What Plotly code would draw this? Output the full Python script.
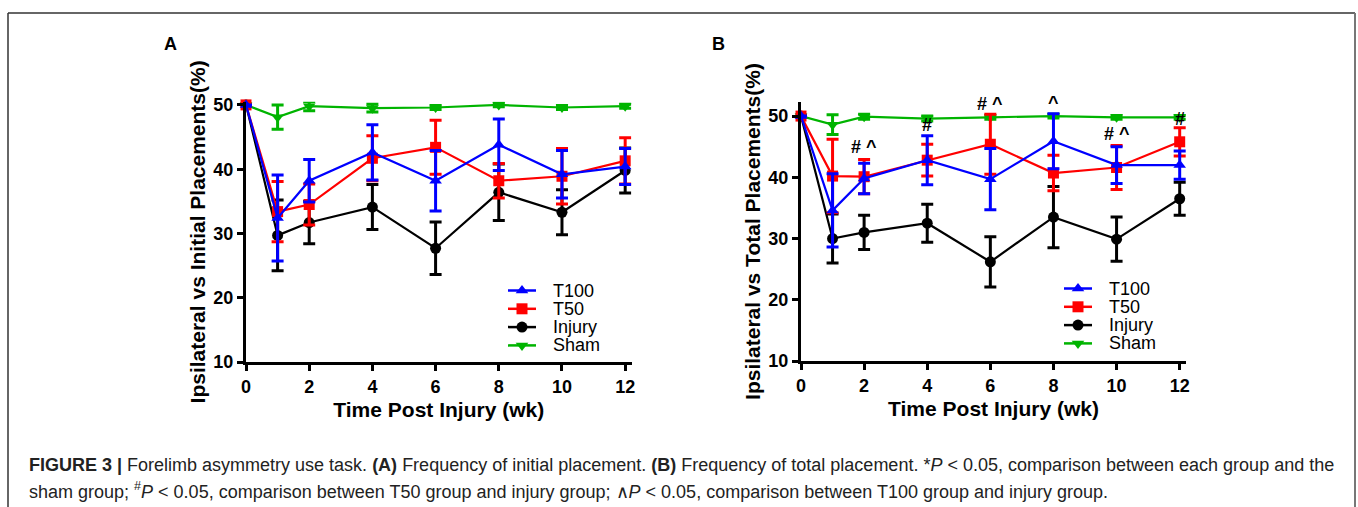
import plotly.graph_objects as go

W, H = 1358, 507

weeks = [0, 1, 2, 4, 6, 8, 10, 12]
series_names = ["T100", "T50", "Injury", "Sham"]

# Panel A: initial placements
a_t100 = [50, 32.4, 38.2, 42.6, 38.2, 43.8, 39.2, 40.4]
a_t100_err = [0, 6.7, 3.3, 4.3, 4.7, 4.0, 3.7, 2.8]
a_t50 = [50, 33.4, 34.5, 41.7, 43.4, 38.2, 38.9, 41.3]
a_t50_err = [0, 4.7, 3.2, 3.5, 4.2, 2.7, 4.3, 3.6]
a_inj = [50, 29.7, 31.7, 34.1, 27.7, 36.4, 33.3, 39.8]
a_inj_err = [0, 5.5, 3.3, 3.5, 4.1, 4.4, 3.5, 3.5]
a_sham = [50, 48.1, 49.8, 49.5, 49.6, 50.0, 49.6, 49.8]
a_sham_err = [0, 1.9, 0.7, 0.6, 0.3, 0.3, 0.3, 0.3]

# Panel B: total placements
b_t100 = [50, 34.6, 39.8, 42.8, 39.7, 45.9, 42.0, 42.0]
b_t100_err = [0, 6.0, 2.5, 4.0, 5.0, 4.5, 3.0, 2.3]
b_t50 = [50, 40.2, 40.1, 42.8, 45.4, 40.7, 41.6, 45.8]
b_t50_err = [0, 6.0, 2.8, 2.6, 4.9, 2.9, 3.6, 2.3]
b_inj = [50, 30.0, 31.0, 32.5, 26.2, 33.5, 29.9, 36.5]
b_inj_err = [0, 4.0, 2.8, 3.1, 4.1, 5.0, 3.6, 2.7]
b_sham = [50, 48.6, 49.9, 49.6, 49.8, 50.0, 49.8, 49.8]
b_sham_err = [0, 1.6, 0.4, 0.4, 0.3, 0.3, 0.3, 0.3]

# significance marks (panel B)
b_sig_x = [2, 4, 6, 8, 10, 12]
b_sig_text = ["# ^", "#", "# ^", "^", "# ^", "#"]
b_sig_y = [45.0, 48.6, 52.0, 52.2, 47.1, 49.5]

colors = {"T100": "#0000FF", "T50": "#FF0000", "Injury": "#000000", "Sham": "#00B400"}
symbols = {"T100": "triangle-up", "T50": "square", "Injury": "circle", "Sham": "triangle-down"}

FONT = "Liberation Sans, Arial, sans-serif"

fig = go.Figure()

def px_x(p):
    return p / W

def px_y(p):
    return (H - p) / H

panelA = {"T100": (a_t100, a_t100_err), "T50": (a_t50, a_t50_err),
          "Injury": (a_inj, a_inj_err), "Sham": (a_sham, a_sham_err)}
panelB = {"T100": (b_t100, b_t100_err), "T50": (b_t50, b_t50_err),
          "Injury": (b_inj, b_inj_err), "Sham": (b_sham, b_sham_err)}

draw_order = ["Sham", "Injury", "T50", "T100"]
for panel, xa, ya in [(panelA, "x", "y"), (panelB, "x2", "y2")]:
    for name in draw_order:
        vals, errs = panel[name]
        fig.add_trace(go.Scatter(
            x=weeks, y=vals, name=name, mode="lines+markers",
            xaxis=xa, yaxis=ya, showlegend=False,
            line=dict(color=colors[name], width=2.2),
            marker=dict(symbol=symbols[name], size=11, color=colors[name]),
            error_y=dict(type="data", array=errs, visible=True, color=colors[name],
                         thickness=3, width=6),
            cliponaxis=False,
        ))

# Legend glyphs drawn on a pixel-space overlay axis (x3/y3), text as annotations
legend_boxes = [(508, 290.5, 18.3), (1064, 288.5, 18.3)]  # left x, first row y, row step
for lx, ly, step in legend_boxes:
    for i, name in enumerate(series_names):
        yy = ly + i * step
        fig.add_trace(go.Scatter(
            x=[lx, lx + 28], y=[yy, yy], mode="lines", xaxis="x3", yaxis="y3",
            showlegend=False, hoverinfo="skip", line=dict(color=colors[name], width=2.5),
            cliponaxis=False))
        fig.add_trace(go.Scatter(
            x=[lx + 14], y=[yy], mode="markers", xaxis="x3", yaxis="y3",
            showlegend=False, hoverinfo="skip", cliponaxis=False,
            marker=dict(symbol=symbols[name], size=11, color=colors[name])))
        fig.add_annotation(text=name, x=lx + 43, y=yy, xref="x3", yref="y3",
                           xanchor="left", yanchor="middle", showarrow=False,
                           font=dict(family=FONT, size=18, color="black"))

axis_common = dict(
    showgrid=False, zeroline=False, showline=True, linecolor="black", linewidth=3,
    ticks="outside", ticklen=6, tickwidth=3, tickcolor="black", automargin=False,
    tickfont=dict(family=FONT, size=18, color="black", weight="bold"),
)

fig.update_layout(
    width=W, height=H, margin=dict(l=0, r=0, t=0, b=0, autoexpand=False),
    paper_bgcolor="white", plot_bgcolor="rgba(0,0,0,0)",
    font=dict(family=FONT, color="black"),
    showlegend=False,
    xaxis=dict(domain=[px_x(246), px_x(631.5)], range=[0, 12.2], tickvals=[0, 2, 4, 6, 8, 10, 12],
               anchor="y",
               title=dict(text="<b>Time Post Injury (wk)</b>", font=dict(size=21), standoff=7),
               **axis_common),
    yaxis=dict(domain=[px_y(362), px_y(101.7)], range=[10, 50.5], tickvals=[10, 20, 30, 40, 50],
               anchor="x",
               title=dict(text="<b>Ipsilateral vs Initial Placements(%)</b>", font=dict(size=21), standoff=3),
               **axis_common),
    xaxis2=dict(domain=[px_x(801), px_x(1186)], range=[0, 12.2], tickvals=[0, 2, 4, 6, 8, 10, 12],
                anchor="y2",
                title=dict(text="<b>Time Post Injury (wk)</b>", font=dict(size=21), standoff=7),
                **axis_common),
    yaxis2=dict(domain=[px_y(361), px_y(102)], range=[10, 52.3], tickvals=[10, 20, 30, 40, 50],
                anchor="x2",
                title=dict(text="<b>Ipsilateral vs Total Placements(%)</b>", font=dict(size=21), standoff=3),
                **axis_common),
    xaxis3=dict(domain=[0, 1], range=[0, W], visible=False, anchor="y3", fixedrange=True),
    yaxis3=dict(domain=[0, 1], range=[H, 0], visible=False, anchor="x3", fixedrange=True),
)

# panel letters
fig.add_annotation(text="<b>A</b>", x=px_x(170), y=px_y(44), xref="paper", yref="paper",
                   xanchor="center", yanchor="middle",
                   showarrow=False, font=dict(size=18, family=FONT))
fig.add_annotation(text="<b>B</b>", x=px_x(718), y=px_y(44), xref="paper", yref="paper",
                   xanchor="center", yanchor="middle",
                   showarrow=False, font=dict(size=18, family=FONT))

# significance
fig.add_annotation(text="<b>*</b>", x=12.56, y=39.3, xref="x", yref="y", showarrow=False,
                   font=dict(size=22, family=FONT))
fig.add_annotation(text="<b>*</b>", x=12.56, y=36.3, xref="x2", yref="y2", showarrow=False,
                   font=dict(size=22, family=FONT))
for sx, st, sy in zip(b_sig_x, b_sig_text, b_sig_y):
    fig.add_annotation(text="<b>" + st + "</b>", x=sx, y=sy, xref="x2", yref="y2",
                       showarrow=False, font=dict(size=18, family=FONT))

# caption
cap1 = ("<b>FIGURE 3 |</b> Forelimb asymmetry use task. <b>(A)</b> Frequency of initial placement. "
        "<b>(B)</b> Frequency of total placement. *<i>P</i> &lt; 0.05, comparison between each group and the")
cap2 = ("sham group; <sup>#</sup><i>P</i> &lt; 0.05, comparison between T50 group and injury group; "
        "∧<i>P</i> &lt; 0.05, comparison between T100 group and injury group.")
fig.add_annotation(text=cap1, x=px_x(27), y=px_y(465), xref="paper", yref="paper", xanchor="left",
                   yanchor="middle", showarrow=False, font=dict(size=18, family=FONT, color="#222"))
fig.add_annotation(text=cap2, x=px_x(27), y=px_y(490), xref="paper", yref="paper", xanchor="left",
                   yanchor="middle", showarrow=False, font=dict(size=18, family=FONT, color="#222"))

# figure frame
fig.add_shape(type="line", xref="paper", yref="paper", x0=px_x(8), x1=px_x(8), y0=0, y1=px_y(13),
              line=dict(color="#333", width=1.5))
fig.add_shape(type="line", xref="paper", yref="paper", x0=px_x(8), x1=px_x(1355), y0=px_y(13), y1=px_y(13),
              line=dict(color="#333", width=1.5))
fig.add_shape(type="line", xref="paper", yref="paper", x0=px_x(1355), x1=px_x(1355), y0=0, y1=px_y(13),
              line=dict(color="#777", width=2))

fig.write_html("out.html")
